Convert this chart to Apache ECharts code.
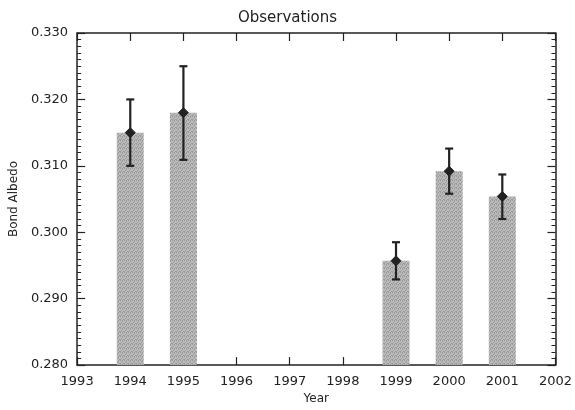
<!DOCTYPE html>
<html><head><meta charset="utf-8">
<script src="https://cdn.jsdelivr.net/npm/echarts@6/dist/echarts.min.js"></script>
<style>html,body{margin:0;padding:0;background:#fff}#c{width:575px;height:410px}</style>
</head><body><div id="c"></div>
<script>
const years = [1994, 1995, 1999, 2000, 2001];
const albedo = [0.3150, 0.3180, 0.2957, 0.3092, 0.3054];
const errLow = [0.3100, 0.3109, 0.2929, 0.3058, 0.3020];
const errHigh = [0.3200, 0.3250, 0.2985, 0.3126, 0.3087];
const yTicks = [0.280, 0.290, 0.300, 0.310, 0.320, 0.330];

const cv = document.createElement('canvas');
cv.width = 4; cv.height = 4;
const cx = cv.getContext('2d');
cx.fillStyle = '#bcbcbc'; cx.fillRect(0,0,4,4);
cx.fillStyle = '#999999';
[[0,0],[2,1],[1,2],[3,3],[2,0],[0,3]].forEach(p=>cx.fillRect(p[0],p[1],1,1));

const font = '"DejaVu Sans", sans-serif';
const ink = '#222';
const chart = echarts.init(document.getElementById('c'), null, {renderer:'canvas'});
const axisCommon = {
  axisLine:{show:true, onZero:false, lineStyle:{color:ink, width:1.5}},
  axisTick:{show:true, inside:true, length:8, lineStyle:{color:ink, width:1.2}},
  splitLine:{show:false}
};
chart.setOption({
  animation:false,
  title:{text:'Observations', left:'center', top:6, textStyle:{fontFamily:font, fontSize:15, fontWeight:'normal', color:ink}},
  grid:{left:75, right:17, top:33, bottom:39},
  xAxis:[
    Object.assign({type:'value', min:1993, max:2002, interval:1, name:'Year', nameLocation:'middle', nameGap:27,
      nameTextStyle:{fontFamily:font, fontSize:12, color:ink},
      axisLabel:{fontFamily:font, fontSize:13, color:ink, margin:10, formatter:v=>String(v)}}, axisCommon),
    Object.assign({type:'value', position:'top', min:1993, max:2002, interval:1, axisLabel:{show:false}}, axisCommon)
  ],
  yAxis:[
    Object.assign({type:'value', min:0.28, max:0.33, interval:0.01, name:'Bond Albedo', nameLocation:'middle', nameGap:54,
      nameTextStyle:{fontFamily:font, fontSize:12, color:ink},
      axisLabel:{fontFamily:font, fontSize:13, color:ink, margin:9, formatter:v=>{const t=yTicks.find(x=>Math.abs(x-v)<1e-6);return (t!==undefined?t:v).toFixed(3);}},
      minorTick:{show:true, splitNumber:10, length:4, lineStyle:{color:ink, width:1}}}, axisCommon),
    Object.assign({type:'value', position:'right', min:0.28, max:0.33, interval:0.01, axisLabel:{show:false},
      minorTick:{show:true, splitNumber:10, length:4, lineStyle:{color:ink, width:1}}}, axisCommon)
  ],
  series:[
    {type:'bar', xAxisIndex:0, yAxisIndex:0, barWidth:27, z:2,
     itemStyle:{color:{image:cv, repeat:'repeat'}},
     data: years.map((y,i)=>[y, albedo[i]])},
    {type:'custom', xAxisIndex:0, yAxisIndex:0, z:10,
     data: years.map((y,i)=>[y, errLow[i], errHigh[i], albedo[i]]),
     renderItem:(params, api)=>{
       const x = api.value(0);
       const lo = api.coord([x, api.value(1)]);
       const hi = api.coord([x, api.value(2)]);
       const mid = api.coord([x, api.value(3)]);
       const cap = 4, d = 5;
       const st = {stroke:ink, lineWidth:2.2};
       return {type:'group', children:[
         {type:'line', shape:{x1:lo[0], y1:lo[1], x2:hi[0], y2:hi[1]}, style:st},
         {type:'line', shape:{x1:lo[0]-cap, y1:lo[1], x2:lo[0]+cap, y2:lo[1]}, style:st},
         {type:'line', shape:{x1:hi[0]-cap, y1:hi[1], x2:hi[0]+cap, y2:hi[1]}, style:st},
         {type:'polygon', shape:{points:[[mid[0],mid[1]-d],[mid[0]+d,mid[1]],[mid[0],mid[1]+d],[mid[0]-d,mid[1]]]}, style:{fill:ink, stroke:ink, lineWidth:1}}
       ]};
     }}
  ]
});
</script></body></html>
